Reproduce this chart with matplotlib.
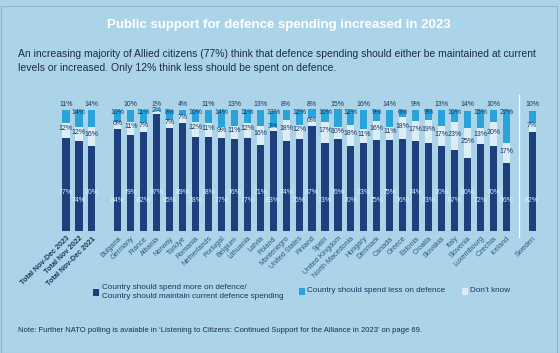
import matplotlib
matplotlib.use("Agg")
import matplotlib.pyplot as plt
from matplotlib.patches import Rectangle
import numpy as np

# ---------------- data ----------------
total_labels = ["Total Nov-Dec 2023", "Total Nov 2022", "Total Nov-Dec 2021"]
total_support = [77, 74, 70]
total_dk = [12, 12, 16]
total_less = [11, 14, 14]

countries = ["Bulgaria", "Germany", "France", "Albania", "Norway", "Türkiye", "Romania",
             "Netherlands", "Portugal", "Belgium", "Lithuania", "Latvia", "Poland",
             "Montenegro", "United States", "Finland", "Spain", "United Kingdom",
             "North Macedonia", "Hungary", "Denmark", "Canada", "Greece", "Estonia",
             "Croatia", "Slovakia", "Italy", "Slovenia", "Luxembourg", "Czechia", "Iceland"]
country_support = [84, 79, 82, 97, 85, 89, 78, 78, 77, 76, 77, 71, 83, 74, 76, 87, 73, 76,
                   70, 73, 75, 75, 76, 74, 73, 70, 67, 60, 72, 70, 56]
country_dk = [6, 11, 7, 2, 7, 7, 12, 11, 9, 11, 12, 16, 3, 18, 12, 6, 17, 10,
              18, 11, 16, 11, 18, 17, 19, 17, 23, 25, 13, 20, 17]
country_less = [10, 10, 11, 1, 8, 4, 10, 11, 14, 13, 11, 13, 13, 8, 12, 8, 10, 15,
                12, 16, 9, 14, 6, 9, 9, 13, 10, 14, 15, 10, 27]

extra_label = ["Sweden"]
extra_support = [82]
extra_dk = [7]
extra_less = [10]

title = "Public support for defence spending increased in 2023"
subtitle_1 = "An increasing majority of Allied citizens (77%) think that defence spending should either be maintained at current"
subtitle_2 = "levels or increased. Only 12% think less should be spent on defence."
legend_labels = ["Country should spend more on defence/\nCountry should maintain current defence spending",
                 "Country should spend less on defence", "Don\u2019t know"]
note = "Note: Further NATO polling is avaiable in \u2018Listening to Citizens: Continued Support for the Alliance in 2023\u2019 on page 69."

# ---------------- style ----------------
BG = "#acd4e8"
DARK = "#1d3f7c"
LESS = "#29a3da"
DK = "#dcedf6"
TXT = "#1e3560"
FONT = ["Liberation Sans", "DejaVu Sans"]
plt.rcParams["font.family"] = FONT

W, H = 560, 353
fig = plt.figure(figsize=(W / 100, H / 100), dpi=100, facecolor=BG)
renderer = fig.canvas.get_renderer()


def fit_text(t, width_px):
    """Scale a text's font size so that its rendered width is width_px."""
    bb = t.get_window_extent(renderer=renderer)
    t.set_fontsize(t.get_fontsize() * width_px / bb.width)
    return t


labels = total_labels + countries + extra_label
support = np.array(total_support + country_support + extra_support)
dk = np.array(total_dk + country_dk + extra_dk)
less = np.array(total_less + country_less + extra_less)
n_tot, n_c = len(total_labels), len(countries)
pos = np.concatenate([np.arange(n_tot),
                      np.arange(n_c) + n_tot + 1,
                      np.arange(len(extra_label)) + n_tot + n_c + 2]).astype(float)

# axes in pixel geometry
px0, px_unit = 66.0, 12.95       # slot 0 centre, pixels per slot
left_px, right_px = 50, 548
y0_px, y100_px, top_px = 231, 110, 90
yunit = (y0_px - y100_px) / 100.0
ax = fig.add_axes([left_px / W, (H - y0_px) / H, (right_px - left_px) / W, (y0_px - top_px) / H])
ax.set_xlim((left_px - px0) / px_unit, (right_px - px0) / px_unit)
ax.set_ylim(0, (y0_px - top_px) / yunit)
ax.set_facecolor("none")
for s in ax.spines.values():
    s.set_visible(False)

bw = 0.55
ax.bar(pos, support, bw, color=DARK, zorder=2)
ax.bar(pos, dk, bw, bottom=support, color=DK, zorder=2)
ax.bar(pos, less, bw, bottom=support + dk, color=LESS, zorder=2)


def ypix(p):
    return (y0_px - p) / yunit


fs = 5.0
for i, (x, s, d, l) in enumerate(zip(pos, support, dk, less)):
    high = (i % 2 == 0)
    ax.text(x, ypix(104 if high else 112), f"{l}%", ha="center", va="center",
            fontsize=fs, color=TXT, zorder=4)
    ax.text(x, s + d / 2 + 1.5, f"{d}%", ha="center", va="center",
            fontsize=fs, color=TXT, zorder=4)
    hi_s = high if i < len(pos) - 1 else False
    ax.text(x, ypix(192 if hi_s else 200), f"{s}%", ha="center", va="center",
            fontsize=fs, color="#e4f1f9", zorder=4)

# separator before Sweden
sep_x = (pos[-1] + pos[-2]) / 2
ax.plot([sep_x, sep_x], [ypix(237), ypix(95)], color="white", lw=0.9, clip_on=False, zorder=1)

ax.set_xticks(pos)
ax.set_xticklabels(labels, rotation=45, ha="right", va="top", rotation_mode="anchor",
                   fontsize=5.2)
ax.tick_params(axis="x", length=0, pad=3)
for i, t in enumerate(ax.get_xticklabels()):
    if i < n_tot:
        t.set_color(TXT)
        t.set_fontweight("bold")
    else:
        t.set_color("#2d5784")
ax.set_yticks([])

# ---------------- texts ----------------
t = fig.text(279 / W, 1 - 25 / H, title, ha="center", va="center", color="white",
             fontsize=10, fontweight="bold")
fit_text(t, 344)
t = fig.text(18 / W, 1 - 54 / H, subtitle_1, ha="left", va="center", color="#1c2b4a", fontsize=7)
fit_text(t, 518)
sub_fs = t.get_fontsize()
fig.text(18 / W, 1 - 68 / H, subtitle_2, ha="left", va="center", color="#1c2b4a", fontsize=sub_fs)


def sq(xp, yp, color):
    fig.add_artist(Rectangle((xp / W, 1 - (yp + 3.5) / H), 6 / W, 7 / H,
                             transform=fig.transFigure, facecolor=color, edgecolor="none"))


sq(93, 292, DARK)
t = fig.text(102 / W, 1 - 292 / H, legend_labels[0], ha="left", va="center", fontsize=6.0,
             color=TXT, linespacing=1.3)
fit_text(t, 185)
lfs = t.get_fontsize()
sq(299, 291, LESS)
fig.text(307 / W, 1 - 291 / H, legend_labels[1], ha="left", va="center", fontsize=lfs, color=TXT)
sq(462, 291, DK)
fig.text(470 / W, 1 - 291 / H, legend_labels[2], ha="left", va="center", fontsize=lfs, color=TXT)

t = fig.text(18 / W, 1 - 331 / H, note, ha="left", va="center", fontsize=6.0, color="#1c2b4a")
fit_text(t, 410)

# outer border
fig.add_artist(Rectangle((0.5 / W, 0.5 / H), (W - 4) / W, (H - 6) / H, transform=fig.transFigure,
                         facecolor="none", edgecolor="#8db5c9", lw=0.8))

fig.savefig("out.png", dpi=100, facecolor=BG)
